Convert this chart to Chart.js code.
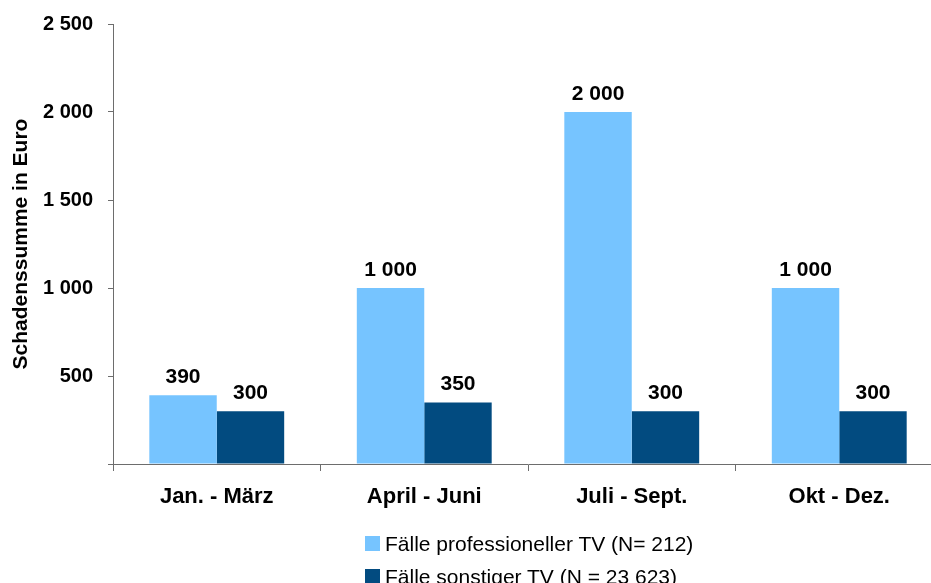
<!DOCTYPE html>
<html>
<head>
<meta charset="utf-8">
<script src="https://cdn.jsdelivr.net/npm/chart.js@4"></script>
<style>
  body { margin: 0; width: 931px; height: 583px; overflow: hidden; background: #fff; position: relative; font-family: "Liberation Sans", Arial, sans-serif; }
  #chart { position: absolute; left: 0; top: 0; }
  .legend { position: absolute; left: 365px; top: 527px; font-size: 21px; color: #000; }
  .legend div { height: 33px; display: flex; align-items: center; }
  .legend span.box { width: 15px; height: 15px; display: inline-block; margin-right: 5px; }
</style>
</head>
<body>
<canvas id="chart" width="943" height="583"></canvas>
<div class="legend" id="legend"></div>
<script>
// Data
const quarters = ['Jan. - März', 'April - Juni', 'Juli - Sept.', 'Okt - Dez.'];
const professionell = [390, 1000, 2000, 1000];
const sonstige = [300, 350, 300, 300];
const seriesLabels = ['Fälle professioneller TV (N= 212)', 'Fälle sonstiger TV (N = 23 623)'];
const colors = ['#76C4FF', '#024B80'];

// "2 500" style numbers
const fmt = v => String(v).replace(/\B(?=(\d{3})+(?!\d))/g, ' ');

const FONT = '"Liberation Sans", Arial, sans-serif';

// Value labels above bars
const barLabels = {
    id: 'barLabels',
    afterDatasetsDraw(chart) {
        const ctx = chart.ctx;
        ctx.save();
        ctx.font = 'bold 21px ' + FONT;
        ctx.fillStyle = '#000';
        ctx.textAlign = 'center';
        ctx.textBaseline = 'alphabetic';
        chart.data.datasets.forEach((ds, i) => {
            chart.getDatasetMeta(i).data.forEach((bar, j) => {
                ctx.fillText(fmt(ds.data[j]), bar.x, bar.y - 12);
            });
        });
        ctx.restore();
    }
};

const ctx = document.getElementById('chart').getContext('2d');
new Chart(ctx, {
    type: 'bar',
    data: {
        labels: quarters,
        datasets: [
            { label: seriesLabels[0], data: professionell, backgroundColor: colors[0] },
            { label: seriesLabels[1], data: sonstige, backgroundColor: colors[1] }
        ]
    },
    options: {
        responsive: false,
        devicePixelRatio: 1,
        animation: false,
        layout: { padding: { top: 24, left: 0, right: 0, bottom: 0 } },
        datasets: { bar: { barPercentage: 1, categoryPercentage: 0.65 } },
        scales: {
            x: {
                grid: { drawOnChartArea: false, drawTicks: true, tickLength: 7, color: '#6d6d6d', offset: true },
                border: { color: '#6d6d6d', width: 1 },
                ticks: { color: '#000', padding: 13, font: { family: FONT, size: 22, weight: 'bold' } },
                afterFit: s => { s.height = 119; }
            },
            y: {
                min: 0,
                max: 2500,
                grid: { drawOnChartArea: false, drawTicks: true, tickLength: 5, color: '#6d6d6d' },
                border: { color: '#6d6d6d', width: 1 },
                ticks: {
                    stepSize: 500,
                    color: '#000',
                    padding: 15,
                    font: { family: FONT, size: 20, weight: 'bold' },
                    callback: v => v === 0 ? '' : fmt(v)
                },
                title: {
                    display: true,
                    text: 'Schadenssumme in Euro',
                    color: '#000',
                    font: { family: FONT, size: 21, weight: 'bold' },
                    padding: { top: 9, bottom: 0 }
                },
                afterFit: s => { s.width = 113; s.paddingTop = 0; s.paddingBottom = 0; }
            }
        },
        plugins: {
            legend: { display: false },
            tooltip: { enabled: false }
        }
    },
    plugins: [barLabels]
});

// Legend (stacked like the original)
const legend = document.getElementById('legend');
seriesLabels.forEach((label, i) => {
    const row = document.createElement('div');
    row.innerHTML = `<span class="box" style="background:${colors[i]}"></span>${label}`;
    legend.appendChild(row);
});
</script>
</body>
</html>
